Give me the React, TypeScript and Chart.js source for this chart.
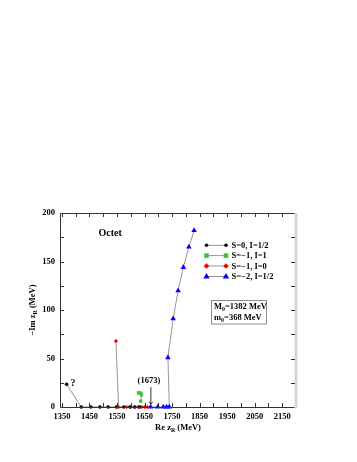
import React, { useEffect, useRef } from "react";
import { Chart, registerables } from "chart.js";

Chart.register(...registerables);

const xTickValues = [1350, 1450, 1550, 1650, 1750, 1850, 1950, 2050, 2150];
const yTickValues = [0, 50, 100, 150, 200];

const seriesNames = ["S=0, I=1/2", "S=\u22121, I=1", "S=\u22121, I=0", "S=\u22122, I=1/2"];

const blackPoints = [
  { x: 1367, y: 23.5 }, { x: 1420, y: 0 }, { x: 1455, y: 0 }, { x: 1488, y: 0 },
  { x: 1518, y: 0 }, { x: 1548, y: 0 }, { x: 1575, y: 0 }, { x: 1597, y: 0 },
  { x: 1615, y: 0 }, { x: 1632, y: 0 },
];
const greenPoints = [
  { x: 1628, y: 14.5 }, { x: 1632, y: 14.8 }, { x: 1636, y: 14 }, { x: 1639, y: 12.5 }, { x: 1636, y: 6 },
];
const redPoints = [
  { x: 1546, y: 68 }, { x: 1556, y: 0 }, { x: 1585, y: 0 }, { x: 1600, y: 0 }, { x: 1613, y: 0 },
  { x: 1627, y: 0 }, { x: 1640, y: 0 }, { x: 1651, y: 0 }, { x: 1660, y: 0 },
];
const bluePoints = [
  { x: 1830, y: 182 }, { x: 1811, y: 165 }, { x: 1791, y: 144 }, { x: 1772, y: 120 },
  { x: 1754, y: 91 }, { x: 1735, y: 51 }, { x: 1740, y: 0 }, { x: 1730, y: 0 },
  { x: 1718, y: 0 }, { x: 1698, y: 0 }, { x: 1672, y: 0 },
];

const FONT = "'Liberation Serif', 'Times New Roman', serif";
const LINE = "rgb(150,150,150)";
const colors = ["#000000", "rgb(70,190,60)", "rgb(240,0,0)", "rgb(0,0,255)"];
const styles = ["circle", "rect", "rectRot", "triangle"];
const radii = [1.8, 2.3, 2.1, 3.2];

function drawMarker(ctx: CanvasRenderingContext2D, style: string, x: number, y: number, r: number, color: string) {
  ctx.save();
  ctx.fillStyle = color;
  ctx.beginPath();
  if (style === "circle") {
    ctx.arc(x, y, r, 0, Math.PI * 2);
  } else if (style === "rect") {
    ctx.rect(x - r, y - r, 2 * r, 2 * r);
  } else if (style === "rectRot") {
    ctx.moveTo(x, y - r * 1.3); ctx.lineTo(x + r * 1.3, y); ctx.lineTo(x, y + r * 1.3); ctx.lineTo(x - r * 1.3, y);
    ctx.closePath();
  } else {
    const h = r * 1.6;
    ctx.moveTo(x, y - h * 0.66); ctx.lineTo(x + r, y + h * 0.4); ctx.lineTo(x - r, y + h * 0.4);
    ctx.closePath();
  }
  ctx.fill();
  ctx.restore();
}

function subText(ctx: CanvasRenderingContext2D, parts: [string, boolean][], x: number, y: number, size: number, align: "left" | "center") {
  let total = 0;
  const widths = parts.map(([t, s]) => {
    ctx.font = `bold ${s ? size * 0.7 : size}px ${FONT}`;
    const w = ctx.measureText(t).width;
    total += w;
    return w;
  });
  let cx = align === "center" ? x - total / 2 : x;
  const prevAlign = ctx.textAlign;
  ctx.textAlign = "left";
  parts.forEach(([t, s], i) => {
    ctx.font = `bold ${s ? size * 0.7 : size}px ${FONT}`;
    ctx.fillText(t, cx, s ? y + size * 0.3 : y);
    cx += widths[i];
  });
  ctx.textAlign = prevAlign;
}

const decorPlugin = {
  id: "decor",
  afterDraw(chart: any) {
    const ctx: CanvasRenderingContext2D = chart.ctx;
    const { left, right, top, bottom } = chart.chartArea;
    const xs = chart.scales.x;
    const ys = chart.scales.y;
    ctx.save();
    // frame
    ctx.strokeStyle = "#333";
    ctx.lineWidth = 1;
    ctx.beginPath();
    ctx.moveTo(right, top + 0.5); ctx.lineTo(left + 0.5, top + 0.5); ctx.lineTo(left + 0.5, bottom + 0.5); ctx.lineTo(right, bottom + 0.5);
    ctx.stroke();
    ctx.strokeStyle = "rgb(215,215,215)";
    ctx.lineWidth = 3;
    ctx.beginPath();
    ctx.moveTo(right, top); ctx.lineTo(right, bottom + 1);
    ctx.stroke();
    // inward ticks
    ctx.strokeStyle = "#333";
    ctx.lineWidth = 1;
    ctx.beginPath();
    for (let v = 1350; v <= 2200; v += 50) {
      const px = Math.round(xs.getPixelForValue(v)) + 0.5;
      if (px <= left + 1 || px >= right - 1) continue;
      ctx.moveTo(px, bottom); ctx.lineTo(px, bottom - 4);
      ctx.moveTo(px, top); ctx.lineTo(px, top + 4);
    }
    for (let v = 25; v < 200; v += 25) {
      const py = Math.round(ys.getPixelForValue(v)) + 0.5;
      ctx.moveTo(left, py); ctx.lineTo(left + 4, py);
      ctx.moveTo(right - 1, py); ctx.lineTo(right - 5, py);
    }
    ctx.stroke();

    ctx.fillStyle = "#000";
    ctx.textBaseline = "middle";
    // axis titles
    subText(ctx, [["Re z", false], ["R", true], [" (MeV)", false]], (left + right) / 2, 428, 8.5, "center");
    ctx.save();
    ctx.translate(33, (top + bottom) / 2);
    ctx.rotate(-Math.PI / 2);
    subText(ctx, [["\u2212Im z", false], ["R", true], [" (MeV)", false]], 0, 0, 8.5, "center");
    ctx.restore();

    // Octet label
    ctx.textAlign = "center";
    ctx.font = `bold 10px ${FONT}`;
    ctx.fillText("Octet", xs.getPixelForValue(1525), ys.getPixelForValue(178.5));

    // "?" label
    ctx.textAlign = "left";
    ctx.font = `bold 10px ${FONT}`;
    ctx.fillText("?", xs.getPixelForValue(blackPoints[0].x) + 4, ys.getPixelForValue(blackPoints[0].y) - 1);

    // (1673) annotation with arrow
    const ax = xs.getPixelForValue(1673);
    ctx.textAlign = "center";
    ctx.font = `bold 8.5px ${FONT}`;
    ctx.fillText("(1673)", ax - 2, ys.getPixelForValue(26.5));
    ctx.strokeStyle = "#000";
    ctx.lineWidth = 0.8;
    ctx.beginPath();
    ctx.moveTo(ax, ys.getPixelForValue(20.5)); ctx.lineTo(ax, ys.getPixelForValue(3));
    ctx.moveTo(ax - 2, ys.getPixelForValue(5.5)); ctx.lineTo(ax, ys.getPixelForValue(3)); ctx.lineTo(ax + 2, ys.getPixelForValue(5.5));
    ctx.stroke();

    // legend
    const rowY = [245.3, 255.6, 266, 276.5];
    ctx.textAlign = "left";
    ctx.font = `bold 8.5px ${FONT}`;
    seriesNames.forEach((name, i) => {
      const y = rowY[i];
      ctx.strokeStyle = LINE;
      ctx.lineWidth = 1;
      ctx.beginPath();
      ctx.moveTo(206.5, y); ctx.lineTo(226, y);
      ctx.stroke();
      drawMarker(ctx, styles[i], 206.5, y, radii[i], colors[i]);
      drawMarker(ctx, styles[i], 226, y, radii[i], colors[i]);
      ctx.fillStyle = "#000";
      ctx.font = `bold 8.5px ${FONT}`;
      ctx.fillText(name, 231.5, y + 0.5);
    });

    // parameter box
    ctx.strokeStyle = "rgb(140,140,140)";
    ctx.lineWidth = 1;
    ctx.strokeRect(211.5, 300.5, 55, 23.5);
    ctx.fillStyle = "#000";
    subText(ctx, [["M", false], ["0", true], ["=1382 MeV", false]], 214, 307, 8.5, "left");
    subText(ctx, [["m", false], ["0", true], ["=368 MeV", false]], 214, 317.5, 8.5, "left");
    ctx.restore();
  },
};

function makeDataset(label: string, data: { x: number; y: number }[], i: number) {
  return {
    label,
    data,
    showLine: true,
    borderColor: LINE,
    borderWidth: 1,
    pointStyle: styles[i],
    pointRadius: radii[i],
    pointBackgroundColor: colors[i],
    pointBorderColor: colors[i],
    pointBorderWidth: 0,
    clip: false,
  };
}

export default function App() {
  const ref = useRef<HTMLCanvasElement>(null);
  useEffect(() => {
    if (!ref.current) return;
    const chart = new Chart(ref.current, {
      type: "scatter",
      data: {
        datasets: [
          makeDataset(seriesNames[0], blackPoints, 0),
          makeDataset(seriesNames[1], greenPoints, 1),
          makeDataset(seriesNames[2], redPoints, 2),
          makeDataset(seriesNames[3], bluePoints, 3),
        ] as any,
      },
      options: {
        animation: false,
        responsive: false,
        events: [],
        layout: { padding: { left: 0, top: 213, right: 61, bottom: 0 } },
        plugins: { legend: { display: false }, tooltip: { enabled: false } },
        scales: {
          x: {
            type: "linear",
            min: 1343,
            max: 2200,
            grid: { display: false, drawTicks: false, tickLength: 0 },
            border: { display: false },
            afterBuildTicks: (s: any) => { s.ticks = xTickValues.map((v) => ({ value: v })); },
            afterFit: (s: any) => { s.height = 55; },
            ticks: {
              color: "#000",
              font: { family: FONT, size: 8.5, weight: "bold" },
              padding: 5,
              maxRotation: 0,
              autoSkip: false,
              callback: (v: any) => String(v),
            },
          },
          y: {
            type: "linear",
            min: 0,
            max: 200,
            grid: { display: false, drawTicks: false, tickLength: 0 },
            border: { display: false },
            afterBuildTicks: (s: any) => { s.ticks = yTickValues.map((v) => ({ value: v })); },
            afterFit: (s: any) => { s.width = 60; },
            ticks: {
              color: "#000",
              font: { family: FONT, size: 8.5, weight: "bold" },
              padding: 5,
              callback: (v: any) => String(v),
            },
          },
        },
      } as any,
      plugins: [decorPlugin],
    });
    return () => chart.destroy();
  }, []);
  return (
    <div style={{ position: "fixed", left: 0, top: 0, width: 357, height: 462, background: "#fff" }}>
      <canvas ref={ref} width={357} height={462} style={{ width: 357, height: 462, display: "block" }} />
    </div>
  );
}
